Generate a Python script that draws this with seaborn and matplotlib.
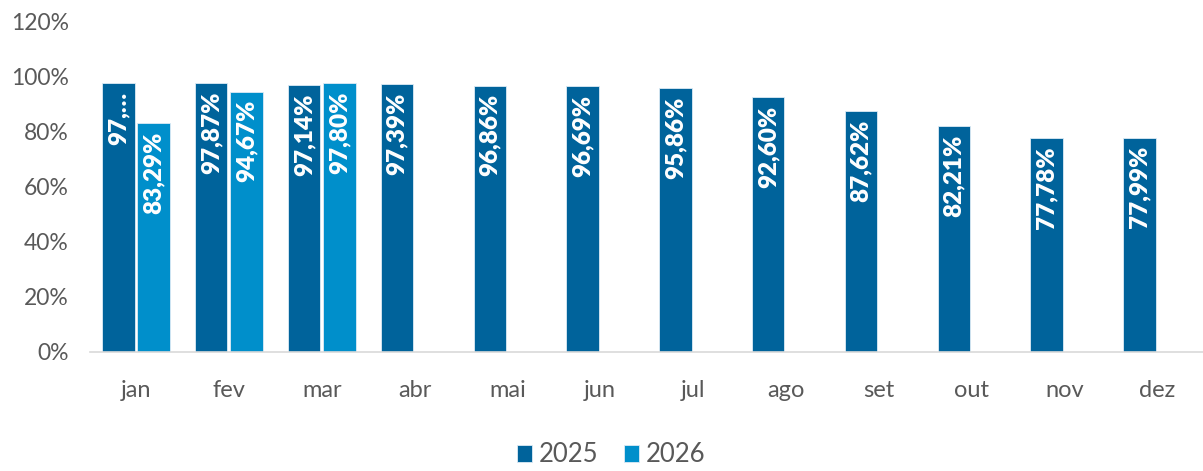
import numpy as np
import pandas as pd
import seaborn as sns
import matplotlib.pyplot as plt

months = ['jan', 'fev', 'mar', 'abr', 'mai', 'jun', 'jul', 'ago', 'set', 'out', 'nov', 'dez']
vals_2025 = [97.75, 97.87, 97.14, 97.39, 96.86, 96.69, 95.86, 92.60, 87.62, 82.21, 77.78, 77.99]
vals_2026 = [83.29, 94.67, 97.80]
# the january 2025 label is cut off in the original chart
labels_2025 = ['97,…'] + [f'{v:.2f}%'.replace('.', ',') for v in vals_2025[1:]]
labels_2026 = [f'{v:.2f}%'.replace('.', ',') for v in vals_2026]

colors = {'2025': '#00639B', '2026': '#008FCB'}

df = pd.DataFrame({
    'mes': months * 2,
    'ano': ['2025'] * 12 + ['2026'] * 12,
    'valor': [v / 100 for v in vals_2025] + [v / 100 for v in vals_2026] + [np.nan] * (12 - len(vals_2026)),
})

sns.set_style('white')
plt.rcParams['font.family'] = ['Lato', 'DejaVu Sans']

fig = plt.figure(figsize=(12.03, 4.71), dpi=100)
ax = fig.add_axes([0.0745, 0.2527, 0.926, 0.7006])

sns.barplot(data=df, x='mes', y='valor', hue='ano', palette=colors, order=months, saturation=1,
            width=0.76, gap=0.08, edgecolor='#DDEBF5', linewidth=0.6, ax=ax, legend=True)

# value labels, vertical, inside the bars near the top
for cont, labs in zip(ax.containers, [labels_2025, labels_2026]):
    bars = [b for b in cont if not np.isnan(b.get_height())]
    for bar, lab in zip(bars, labs):
        ax.annotate(lab, (bar.get_x() + bar.get_width() / 2, bar.get_height()),
                    xytext=(0, -6), textcoords='offset points', rotation=90,
                    ha='center', va='top', color='white', fontsize=17.5, fontweight='heavy')

ax.set_ylim(0, 1.2)
ax.set_yticks(np.arange(0, 1.21, 0.2))
ax.set_yticklabels([f'{int(round(t * 100))}%' for t in np.arange(0, 1.21, 0.2)])
ax.set_xlim(-0.5, 11.5)
ax.set_xlabel('')
ax.set_ylabel('')
ax.tick_params(axis='y', length=0, labelsize=16.5, labelcolor='#595959', pad=15)
ax.tick_params(axis='x', length=0, labelsize=17, labelcolor='#595959', pad=20)
for s in ['top', 'right', 'left']:
    ax.spines[s].set_visible(False)
ax.spines['bottom'].set_color('#D9D9D9')
ax.spines['bottom'].set_linewidth(1.2)

handles, labs = ax.get_legend_handles_labels()
ax.legend_.remove()
fig.legend(handles, labs, loc='center', bbox_to_anchor=(0.508, 0.034), ncol=2, frameon=False,
           fontsize=18.5, labelcolor='#595959', handlelength=0.6, handleheight=0.6,
           handletextpad=0.25, columnspacing=1.0)

fig.savefig('out.png', dpi=100)
